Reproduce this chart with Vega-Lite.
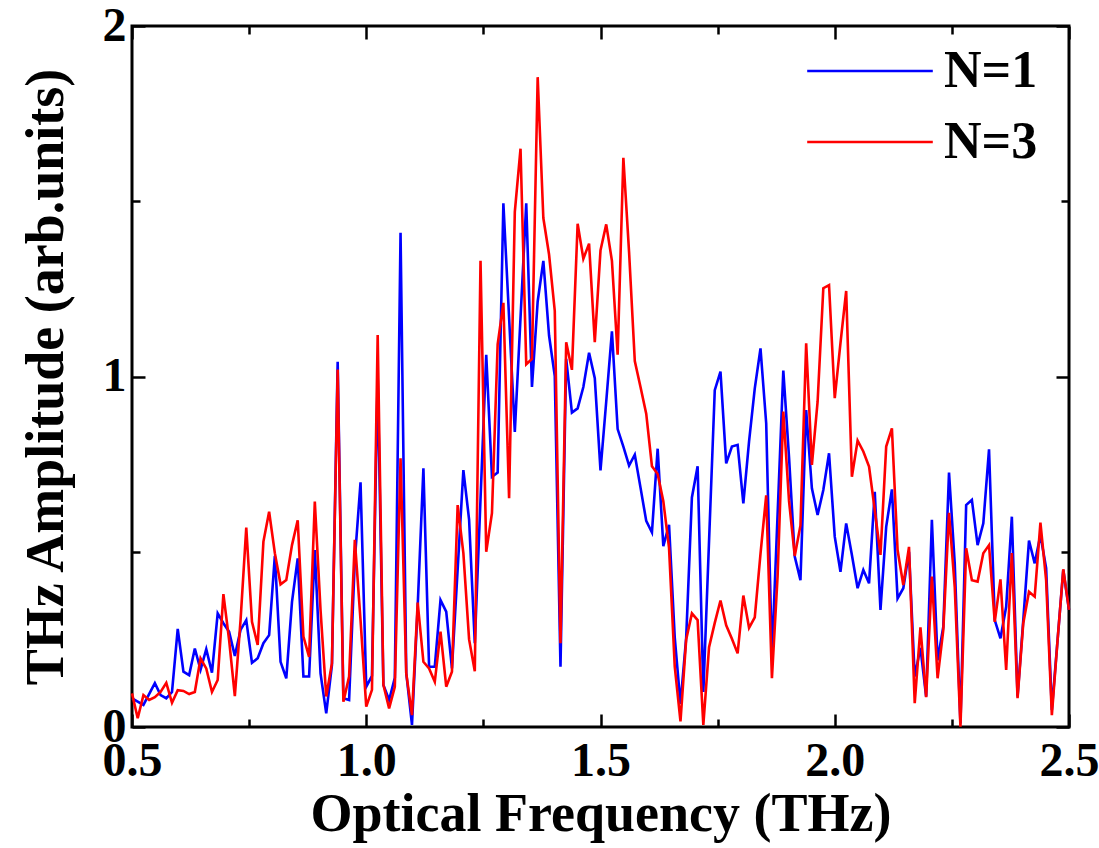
{
  "$schema": "https://vega.github.io/schema/vega-lite/v6.json",
  "width": 937,
  "height": 701,
  "autosize": {"type": "none"},
  "padding": {"left": 132, "top": 26, "right": 30, "bottom": 121},
  "background": "white",
  "config": {
    "view": {"stroke": "black", "strokeWidth": 3},
    "font": "Liberation Serif",
    "axis": {"grid": false, "domain": false, "tickColor": "black", "tickWidth": 2.5, "labelColor": "black", "titleColor": "black"}
  },
  "data": {"values": [
    {"f":0.5,"a":0.082,"s":"N=1"},{"f":0.5244,"a":0.063,"s":"N=1"},{"f":0.5488,"a":0.125,"s":"N=1"},{"f":0.5610,"a":0.091,"s":"N=1"},{"f":0.5732,"a":0.082,"s":"N=1"},{"f":0.5854,"a":0.10,"s":"N=1"},{"f":0.5976,"a":0.28,"s":"N=1"},{"f":0.6098,"a":0.158,"s":"N=1"},{"f":0.6220,"a":0.148,"s":"N=1"},{"f":0.6341,"a":0.224,"s":"N=1"},{"f":0.6463,"a":0.163,"s":"N=1"},{"f":0.6585,"a":0.222,"s":"N=1"},{"f":0.6707,"a":0.155,"s":"N=1"},{"f":0.6829,"a":0.324,"s":"N=1"},{"f":0.6951,"a":0.296,"s":"N=1"},{"f":0.7073,"a":0.272,"s":"N=1"},{"f":0.7195,"a":0.203,"s":"N=1"},{"f":0.7317,"a":0.277,"s":"N=1"},{"f":0.7439,"a":0.305,"s":"N=1"},{"f":0.7561,"a":0.183,"s":"N=1"},{"f":0.7683,"a":0.196,"s":"N=1"},{"f":0.7805,"a":0.239,"s":"N=1"},{"f":0.7927,"a":0.262,"s":"N=1"},{"f":0.8049,"a":0.488,"s":"N=1"},{"f":0.8171,"a":0.186,"s":"N=1"},{"f":0.8293,"a":0.139,"s":"N=1"},{"f":0.8415,"a":0.357,"s":"N=1"},{"f":0.8537,"a":0.481,"s":"N=1"},{"f":0.8659,"a":0.144,"s":"N=1"},{"f":0.8780,"a":0.144,"s":"N=1"},{"f":0.8902,"a":0.505,"s":"N=1"},{"f":0.9024,"a":0.153,"s":"N=1"},{"f":0.9146,"a":0.039,"s":"N=1"},{"f":0.9268,"a":0.177,"s":"N=1"},{"f":0.9390,"a":1.042,"s":"N=1"},{"f":0.9512,"a":0.082,"s":"N=1"},{"f":0.9634,"a":0.077,"s":"N=1"},{"f":0.9756,"a":0.476,"s":"N=1"},{"f":0.9878,"a":0.698,"s":"N=1"},{"f":1.0000,"a":0.115,"s":"N=1"},{"f":1.0122,"a":0.146,"s":"N=1"},{"f":1.0244,"a":1.0,"s":"N=1"},{"f":1.0366,"a":0.12,"s":"N=1"},{"f":1.0488,"a":0.077,"s":"N=1"},{"f":1.0610,"a":0.14,"s":"N=1"},{"f":1.0732,"a":1.41,"s":"N=1"},{"f":1.0854,"a":0.154,"s":"N=1"},{"f":1.0976,"a":0.006,"s":"N=1"},{"f":1.1098,"a":0.345,"s":"N=1"},{"f":1.1220,"a":0.738,"s":"N=1"},{"f":1.1341,"a":0.172,"s":"N=1"},{"f":1.1463,"a":0.172,"s":"N=1"},{"f":1.1585,"a":0.362,"s":"N=1"},{"f":1.1707,"a":0.329,"s":"N=1"},{"f":1.1829,"a":0.167,"s":"N=1"},{"f":1.2073,"a":0.733,"s":"N=1"},{"f":1.2195,"a":0.592,"s":"N=1"},{"f":1.2317,"a":0.239,"s":"N=1"},{"f":1.2561,"a":1.062,"s":"N=1"},{"f":1.2683,"a":0.714,"s":"N=1"},{"f":1.2805,"a":0.726,"s":"N=1"},{"f":1.2927,"a":1.494,"s":"N=1"},{"f":1.3171,"a":0.842,"s":"N=1"},{"f":1.3415,"a":1.494,"s":"N=1"},{"f":1.3537,"a":0.970,"s":"N=1"},{"f":1.3659,"a":1.214,"s":"N=1"},{"f":1.3780,"a":1.33,"s":"N=1"},{"f":1.3902,"a":1.117,"s":"N=1"},{"f":1.4024,"a":1.001,"s":"N=1"},{"f":1.4146,"a":0.172,"s":"N=1"},{"f":1.4268,"a":1.05,"s":"N=1"},{"f":1.4390,"a":0.897,"s":"N=1"},{"f":1.4512,"a":0.909,"s":"N=1"},{"f":1.4634,"a":0.970,"s":"N=1"},{"f":1.4756,"a":1.068,"s":"N=1"},{"f":1.4878,"a":0.995,"s":"N=1"},{"f":1.5000,"a":0.732,"s":"N=1"},{"f":1.5122,"a":0.928,"s":"N=1"},{"f":1.5244,"a":1.129,"s":"N=1"},{"f":1.5366,"a":0.85,"s":"N=1"},{"f":1.5488,"a":0.80,"s":"N=1"},{"f":1.5610,"a":0.746,"s":"N=1"},{"f":1.5732,"a":0.777,"s":"N=1"},{"f":1.5854,"a":0.683,"s":"N=1"},{"f":1.5976,"a":0.588,"s":"N=1"},{"f":1.6098,"a":0.555,"s":"N=1"},{"f":1.6220,"a":0.794,"s":"N=1"},{"f":1.6341,"a":0.516,"s":"N=1"},{"f":1.6463,"a":0.577,"s":"N=1"},{"f":1.6585,"a":0.255,"s":"N=1"},{"f":1.6707,"a":0.066,"s":"N=1"},{"f":1.6829,"a":0.255,"s":"N=1"},{"f":1.6951,"a":0.655,"s":"N=1"},{"f":1.7073,"a":0.744,"s":"N=1"},{"f":1.7195,"a":0.1,"s":"N=1"},{"f":1.7439,"a":0.961,"s":"N=1"},{"f":1.7561,"a":1.014,"s":"N=1"},{"f":1.7683,"a":0.752,"s":"N=1"},{"f":1.7805,"a":0.80,"s":"N=1"},{"f":1.7927,"a":0.805,"s":"N=1"},{"f":1.8049,"a":0.638,"s":"N=1"},{"f":1.8171,"a":0.815,"s":"N=1"},{"f":1.8293,"a":0.966,"s":"N=1"},{"f":1.8415,"a":1.08,"s":"N=1"},{"f":1.8537,"a":0.866,"s":"N=1"},{"f":1.8659,"a":0.2,"s":"N=1"},{"f":1.8902,"a":1.017,"s":"N=1"},{"f":1.9024,"a":0.77,"s":"N=1"},{"f":1.9146,"a":0.486,"s":"N=1"},{"f":1.9268,"a":0.419,"s":"N=1"},{"f":1.9390,"a":0.904,"s":"N=1"},{"f":1.9512,"a":0.681,"s":"N=1"},{"f":1.9634,"a":0.605,"s":"N=1"},{"f":1.9756,"a":0.676,"s":"N=1"},{"f":1.9878,"a":0.781,"s":"N=1"},{"f":2.0000,"a":0.543,"s":"N=1"},{"f":2.0122,"a":0.443,"s":"N=1"},{"f":2.0244,"a":0.581,"s":"N=1"},{"f":2.0366,"a":0.491,"s":"N=1"},{"f":2.0488,"a":0.396,"s":"N=1"},{"f":2.0610,"a":0.448,"s":"N=1"},{"f":2.0732,"a":0.41,"s":"N=1"},{"f":2.0854,"a":0.671,"s":"N=1"},{"f":2.0976,"a":0.334,"s":"N=1"},{"f":2.1098,"a":0.571,"s":"N=1"},{"f":2.1220,"a":0.678,"s":"N=1"},{"f":2.1341,"a":0.367,"s":"N=1"},{"f":2.1463,"a":0.396,"s":"N=1"},{"f":2.1585,"a":0.50,"s":"N=1"},{"f":2.1707,"a":0.144,"s":"N=1"},{"f":2.1829,"a":0.226,"s":"N=1"},{"f":2.1951,"a":0.087,"s":"N=1"},{"f":2.2073,"a":0.591,"s":"N=1"},{"f":2.2195,"a":0.19,"s":"N=1"},{"f":2.2317,"a":0.286,"s":"N=1"},{"f":2.2439,"a":0.726,"s":"N=1"},{"f":2.2561,"a":0.467,"s":"N=1"},{"f":2.2683,"a":0.01,"s":"N=1"},{"f":2.2805,"a":0.633,"s":"N=1"},{"f":2.2927,"a":0.648,"s":"N=1"},{"f":2.3049,"a":0.519,"s":"N=1"},{"f":2.3171,"a":0.581,"s":"N=1"},{"f":2.3293,"a":0.792,"s":"N=1"},{"f":2.3415,"a":0.305,"s":"N=1"},{"f":2.3537,"a":0.253,"s":"N=1"},{"f":2.3659,"a":0.343,"s":"N=1"},{"f":2.3780,"a":0.60,"s":"N=1"},{"f":2.3902,"a":0.087,"s":"N=1"},{"f":2.4024,"a":0.305,"s":"N=1"},{"f":2.4146,"a":0.532,"s":"N=1"},{"f":2.4268,"a":0.467,"s":"N=1"},{"f":2.4390,"a":0.548,"s":"N=1"},{"f":2.4512,"a":0.453,"s":"N=1"},{"f":2.4634,"a":0.049,"s":"N=1"},{"f":2.4756,"a":0.248,"s":"N=1"},{"f":2.4878,"a":0.448,"s":"N=1"},{"f":2.5,"a":0.334,"s":"N=1"},

    {"f":0.5,"a":0.096,"s":"N=3"},{"f":0.5122,"a":0.025,"s":"N=3"},{"f":0.5244,"a":0.091,"s":"N=3"},{"f":0.5366,"a":0.077,"s":"N=3"},{"f":0.5488,"a":0.085,"s":"N=3"},{"f":0.5610,"a":0.10,"s":"N=3"},{"f":0.5732,"a":0.126,"s":"N=3"},{"f":0.5854,"a":0.069,"s":"N=3"},{"f":0.5976,"a":0.105,"s":"N=3"},{"f":0.6098,"a":0.103,"s":"N=3"},{"f":0.6220,"a":0.094,"s":"N=3"},{"f":0.6341,"a":0.10,"s":"N=3"},{"f":0.6463,"a":0.196,"s":"N=3"},{"f":0.6585,"a":0.167,"s":"N=3"},{"f":0.6707,"a":0.10,"s":"N=3"},{"f":0.6829,"a":0.134,"s":"N=3"},{"f":0.6951,"a":0.379,"s":"N=3"},{"f":0.7073,"a":0.248,"s":"N=3"},{"f":0.7195,"a":0.088,"s":"N=3"},{"f":0.7317,"a":0.305,"s":"N=3"},{"f":0.7439,"a":0.569,"s":"N=3"},{"f":0.7561,"a":0.30,"s":"N=3"},{"f":0.7683,"a":0.234,"s":"N=3"},{"f":0.7805,"a":0.529,"s":"N=3"},{"f":0.7927,"a":0.614,"s":"N=3"},{"f":0.8049,"a":0.496,"s":"N=3"},{"f":0.8171,"a":0.407,"s":"N=3"},{"f":0.8293,"a":0.419,"s":"N=3"},{"f":0.8415,"a":0.519,"s":"N=3"},{"f":0.8537,"a":0.59,"s":"N=3"},{"f":0.8659,"a":0.258,"s":"N=3"},{"f":0.8780,"a":0.20,"s":"N=3"},{"f":0.8902,"a":0.643,"s":"N=3"},{"f":0.9024,"a":0.334,"s":"N=3"},{"f":0.9146,"a":0.087,"s":"N=3"},{"f":0.9268,"a":0.182,"s":"N=3"},{"f":0.9390,"a":1.02,"s":"N=3"},{"f":0.9512,"a":0.072,"s":"N=3"},{"f":0.9634,"a":0.144,"s":"N=3"},{"f":0.9756,"a":0.534,"s":"N=3"},{"f":0.9878,"a":0.305,"s":"N=3"},{"f":1.0000,"a":0.058,"s":"N=3"},{"f":1.0122,"a":0.106,"s":"N=3"},{"f":1.0244,"a":1.118,"s":"N=3"},{"f":1.0366,"a":0.12,"s":"N=3"},{"f":1.0488,"a":0.053,"s":"N=3"},{"f":1.0610,"a":0.115,"s":"N=3"},{"f":1.0732,"a":0.767,"s":"N=3"},{"f":1.0854,"a":0.153,"s":"N=3"},{"f":1.0976,"a":0.034,"s":"N=3"},{"f":1.1098,"a":0.355,"s":"N=3"},{"f":1.1220,"a":0.186,"s":"N=3"},{"f":1.1341,"a":0.167,"s":"N=3"},{"f":1.1463,"a":0.129,"s":"N=3"},{"f":1.1585,"a":0.272,"s":"N=3"},{"f":1.1707,"a":0.115,"s":"N=3"},{"f":1.1829,"a":0.158,"s":"N=3"},{"f":1.1951,"a":0.633,"s":"N=3"},{"f":1.2073,"a":0.496,"s":"N=3"},{"f":1.2195,"a":0.25,"s":"N=3"},{"f":1.2317,"a":0.159,"s":"N=3"},{"f":1.2439,"a":1.33,"s":"N=3"},{"f":1.2561,"a":0.50,"s":"N=3"},{"f":1.2683,"a":0.61,"s":"N=3"},{"f":1.2805,"a":1.092,"s":"N=3"},{"f":1.2927,"a":1.21,"s":"N=3"},{"f":1.3049,"a":0.653,"s":"N=3"},{"f":1.3171,"a":1.47,"s":"N=3"},{"f":1.3293,"a":1.65,"s":"N=3"},{"f":1.3415,"a":1.035,"s":"N=3"},{"f":1.3537,"a":1.05,"s":"N=3"},{"f":1.3659,"a":1.854,"s":"N=3"},{"f":1.3780,"a":1.452,"s":"N=3"},{"f":1.3902,"a":1.348,"s":"N=3"},{"f":1.4024,"a":1.187,"s":"N=3"},{"f":1.4146,"a":0.239,"s":"N=3"},{"f":1.4268,"a":1.098,"s":"N=3"},{"f":1.4390,"a":1.019,"s":"N=3"},{"f":1.4512,"a":1.436,"s":"N=3"},{"f":1.4634,"a":1.336,"s":"N=3"},{"f":1.4756,"a":1.379,"s":"N=3"},{"f":1.4878,"a":1.098,"s":"N=3"},{"f":1.5000,"a":1.36,"s":"N=3"},{"f":1.5122,"a":1.434,"s":"N=3"},{"f":1.5244,"a":1.33,"s":"N=3"},{"f":1.5366,"a":1.062,"s":"N=3"},{"f":1.5488,"a":1.624,"s":"N=3"},{"f":1.5610,"a":1.355,"s":"N=3"},{"f":1.5732,"a":1.044,"s":"N=3"},{"f":1.5854,"a":0.97,"s":"N=3"},{"f":1.5976,"a":0.894,"s":"N=3"},{"f":1.6098,"a":0.744,"s":"N=3"},{"f":1.6220,"a":0.722,"s":"N=3"},{"f":1.6341,"a":0.644,"s":"N=3"},{"f":1.6463,"a":0.511,"s":"N=3"},{"f":1.6585,"a":0.172,"s":"N=3"},{"f":1.6707,"a":0.016,"s":"N=3"},{"f":1.6829,"a":0.25,"s":"N=3"},{"f":1.6951,"a":0.324,"s":"N=3"},{"f":1.7073,"a":0.305,"s":"N=3"},{"f":1.7195,"a":0.006,"s":"N=3"},{"f":1.7317,"a":0.228,"s":"N=3"},{"f":1.7439,"a":0.297,"s":"N=3"},{"f":1.7561,"a":0.361,"s":"N=3"},{"f":1.7683,"a":0.29,"s":"N=3"},{"f":1.7805,"a":0.252,"s":"N=3"},{"f":1.7927,"a":0.21,"s":"N=3"},{"f":1.8049,"a":0.375,"s":"N=3"},{"f":1.8171,"a":0.283,"s":"N=3"},{"f":1.8293,"a":0.313,"s":"N=3"},{"f":1.8415,"a":0.494,"s":"N=3"},{"f":1.8537,"a":0.661,"s":"N=3"},{"f":1.8659,"a":0.139,"s":"N=3"},{"f":1.8780,"a":0.43,"s":"N=3"},{"f":1.8902,"a":0.9,"s":"N=3"},{"f":1.9024,"a":0.645,"s":"N=3"},{"f":1.9146,"a":0.488,"s":"N=3"},{"f":1.9268,"a":0.575,"s":"N=3"},{"f":1.9390,"a":1.095,"s":"N=3"},{"f":1.9512,"a":0.748,"s":"N=3"},{"f":1.9634,"a":0.928,"s":"N=3"},{"f":1.9756,"a":1.252,"s":"N=3"},{"f":1.9878,"a":1.261,"s":"N=3"},{"f":2.0000,"a":0.938,"s":"N=3"},{"f":2.0122,"a":1.095,"s":"N=3"},{"f":2.0244,"a":1.244,"s":"N=3"},{"f":2.0366,"a":0.714,"s":"N=3"},{"f":2.0488,"a":0.817,"s":"N=3"},{"f":2.0610,"a":0.786,"s":"N=3"},{"f":2.0732,"a":0.743,"s":"N=3"},{"f":2.0854,"a":0.619,"s":"N=3"},{"f":2.0976,"a":0.491,"s":"N=3"},{"f":2.1098,"a":0.80,"s":"N=3"},{"f":2.1220,"a":0.852,"s":"N=3"},{"f":2.1341,"a":0.505,"s":"N=3"},{"f":2.1463,"a":0.405,"s":"N=3"},{"f":2.1585,"a":0.514,"s":"N=3"},{"f":2.1707,"a":0.068,"s":"N=3"},{"f":2.1829,"a":0.284,"s":"N=3"},{"f":2.1951,"a":0.085,"s":"N=3"},{"f":2.2073,"a":0.429,"s":"N=3"},{"f":2.2195,"a":0.139,"s":"N=3"},{"f":2.2317,"a":0.277,"s":"N=3"},{"f":2.2439,"a":0.611,"s":"N=3"},{"f":2.2561,"a":0.40,"s":"N=3"},{"f":2.2683,"a":0.001,"s":"N=3"},{"f":2.2805,"a":0.51,"s":"N=3"},{"f":2.2927,"a":0.419,"s":"N=3"},{"f":2.3049,"a":0.415,"s":"N=3"},{"f":2.3171,"a":0.496,"s":"N=3"},{"f":2.3293,"a":0.519,"s":"N=3"},{"f":2.3415,"a":0.30,"s":"N=3"},{"f":2.3537,"a":0.421,"s":"N=3"},{"f":2.3659,"a":0.163,"s":"N=3"},{"f":2.3780,"a":0.496,"s":"N=3"},{"f":2.3902,"a":0.082,"s":"N=3"},{"f":2.4024,"a":0.296,"s":"N=3"},{"f":2.4146,"a":0.386,"s":"N=3"},{"f":2.4268,"a":0.372,"s":"N=3"},{"f":2.4390,"a":0.583,"s":"N=3"},{"f":2.4512,"a":0.419,"s":"N=3"},{"f":2.4634,"a":0.034,"s":"N=3"},{"f":2.4756,"a":0.248,"s":"N=3"},{"f":2.4878,"a":0.45,"s":"N=3"},{"f":2.5,"a":0.334,"s":"N=3"}
  ]},
  "encoding": {
    "color": {
      "field": "s", "type": "nominal",
      "scale": {"domain": ["N=1", "N=3"], "range": ["#0000ff", "#ff0000"]},
      "legend": {
        "title": null, "orient": "none", "legendX": 712, "legendY": 19,
        "symbolType": "M-12.56,0H12.56", "symbolSize": 100, "symbolStrokeWidth": 2.6,
        "labelFont": "Liberation Serif", "labelFontWeight": "bold", "labelFontSize": 52,
        "labelColor": "black", "labelOffset": 48, "rowPadding": 19
      }
    }
  },
  "layer": [
    {
      "transform": [{"filter": "datum.s === 'N=1'"}],
      "mark": {"type": "line", "strokeWidth": 2.6},
      "encoding": {
        "x": {
          "field": "f", "type": "quantitative",
          "scale": {"domain": [0.5, 2.5], "nice": false, "zero": false},
          "axis": {
            "orient": "bottom",
            "values": [0.5, 0.75, 1, 1.25, 1.5, 1.75, 2, 2.25, 2.5],
            "labelExpr": "(datum.value * 2) % 1 === 0 ? format(datum.value, '.1f') : ''",
            "tickSize": {"condition": {"test": "(datum.value * 2) % 1 === 0", "value": -13}, "value": -8},
            "labelFont": "Liberation Serif", "labelFontWeight": "bold", "labelFontSize": 48,
            "labelPadding": 23, "labelFlush": false,
            "title": "Optical Frequency (THz)",
            "titleFont": "Liberation Serif", "titleFontWeight": "bold", "titleFontSize": 54,
            "titleY": 103, "titleBaseline": "alphabetic"
          }
        },
        "y": {
          "field": "a", "type": "quantitative",
          "scale": {"domain": [0, 2], "nice": false},
          "axis": {
            "orient": "left",
            "values": [0, 0.5, 1, 1.5, 2],
            "labelExpr": "datum.value % 1 === 0 ? format(datum.value, 'd') : ''",
            "tickSize": {"condition": {"test": "datum.value % 1 === 0", "value": -13}, "value": -8},
            "labelFont": "Liberation Serif", "labelFontWeight": "bold", "labelFontSize": 48,
            "labelPadding": 19, "labelFlush": false,
            "title": "THz Amplitude (arb.units)",
            "titleFont": "Liberation Serif", "titleFontWeight": "bold", "titleFontSize": 54,
            "titleX": -86, "titleBaseline": "middle"
          }
        }
      }
    },
    {
      "transform": [{"filter": "datum.s === 'N=3'"}],
      "mark": {"type": "line", "strokeWidth": 2.6},
      "encoding": {
        "x": {
          "field": "f", "type": "quantitative",
          "axis": {
            "orient": "top",
            "values": [0.5, 0.75, 1, 1.25, 1.5, 1.75, 2, 2.25, 2.5],
            "labels": false, "title": null,
            "tickSize": {"condition": {"test": "(datum.value * 2) % 1 === 0", "value": -13}, "value": -8}
          }
        },
        "y": {
          "field": "a", "type": "quantitative",
          "axis": {
            "orient": "right",
            "values": [0, 0.5, 1, 1.5, 2],
            "labels": false, "title": null,
            "tickSize": {"condition": {"test": "datum.value % 1 === 0", "value": -13}, "value": -8}
          }
        }
      }
    }
  ],
  "resolve": {"axis": {"x": "independent", "y": "independent"}}
}
